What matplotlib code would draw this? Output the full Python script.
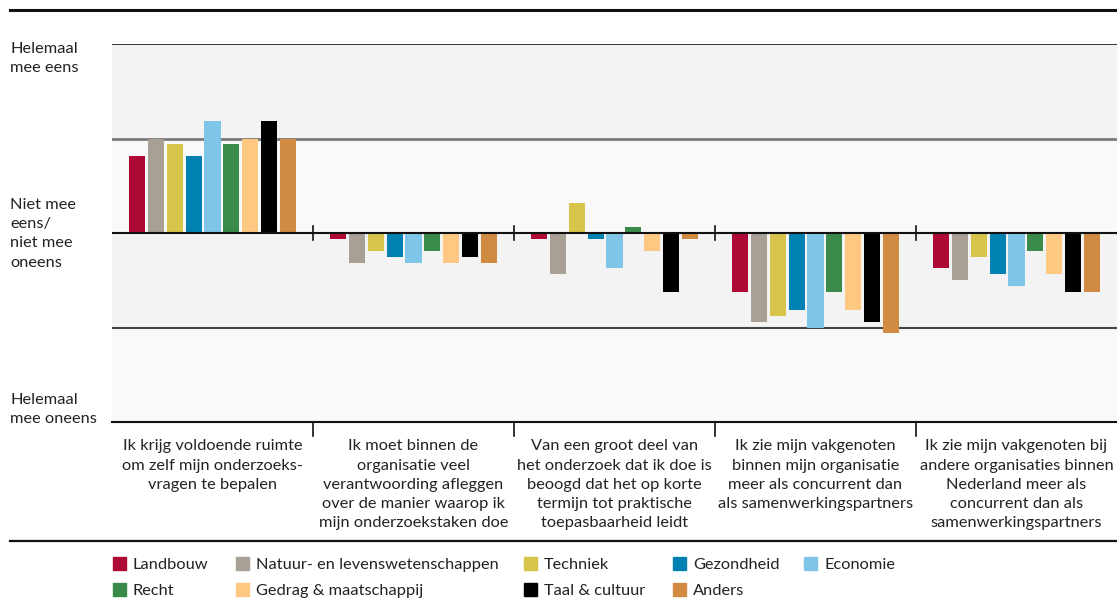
import matplotlib
matplotlib.use("Agg")
import matplotlib.pyplot as plt
from matplotlib.patches import Rectangle
from matplotlib.lines import Line2D
import numpy as np

plt.rcParams['font.family'] = ['Lato', 'DejaVu Sans']

categories = [
    "Ik krijg voldoende ruimte\nom zelf mijn onderzoeks-\nvragen te bepalen",
    "Ik moet binnen de\norganisatie veel\nverantwoording afleggen\nover de manier waarop ik\nmijn onderzoekstaken doe",
    "Van een groot deel van\nhet onderzoek dat ik doe is\nbeoogd dat het op korte\ntermijn tot praktische\ntoepasbaarheid leidt",
    "Ik zie mijn vakgenoten\nbinnen mijn organisatie\nmeer als concurrent dan\nals samenwerkingspartners",
    "Ik zie mijn vakgenoten bij\nandere organisaties binnen\nNederland meer als\nconcurrent dan als\nsamenwerkingspartners",
]

series_names = ["Landbouw", "Natuur- en levenswetenschappen", "Techniek", "Gezondheid",
                "Economie", "Recht", "Gedrag & maatschappij", "Taal & cultuur", "Anders"]

landbouw   = [0.8125, -0.0625, -0.0625, -0.625, -0.375]
natuur     = [1.0, -0.3125, -0.4375, -0.9375, -0.5]
techniek   = [0.9375, -0.1875, 0.3125, -0.875, -0.25]
gezondheid = [0.8125, -0.25, -0.0625, -0.8125, -0.4375]
economie   = [1.1875, -0.3125, -0.375, -1.0, -0.5625]
recht      = [0.9375, -0.1875, 0.0625, -0.625, -0.1875]
gedrag     = [1.0, -0.3125, -0.1875, -0.8125, -0.4375]
taal       = [1.1875, -0.25, -0.625, -0.9375, -0.625]
anders     = [1.0, -0.3125, -0.0625, -1.0625, -0.625]

series_values = [landbouw, natuur, techniek, gezondheid, economie, recht, gedrag, taal, anders]

colors = ["#ae0834", "#a8a094", "#d8c44a", "#0081b1", "#7fc5e7",
          "#3a8a4a", "#fec883", "#000000", "#d08a42"]

ylabels = ["Helemaal\nmee eens", "Niet mee\neens/\nniet mee\noneens", "Helemaal\nmee oneens"]

W, H = 1117, 599
FS = 11.8
LS = 1.47
TXT = "#222222"
fig = plt.figure(figsize=(W / 100, H / 100), dpi=100)

def fx(px):
    return px / W

def fy(py):
    return 1 - py / H

ax = fig.add_axes([fx(112), fy(422), fx(1117 - 112), (422 - 44) / H])
ax.set_xlim(-0.5, 4.5)
ax.set_ylim(-2, 2)

# background bands
ax.axhspan(1, 2, color="#f3f3f3", zorder=0, lw=0)
ax.axhspan(0, 1, color="#f9f9f9", zorder=0, lw=0)
ax.axhspan(-1, 0, color="#f3f3f3", zorder=0, lw=0)
ax.axhspan(-2, -1, color="#f9f9f9", zorder=0, lw=0)

x = np.arange(len(categories))
pitch = 0.094
width = 0.08
n = len(series_values)
for i, (vals, c) in enumerate(zip(series_values, colors)):
    offs = (i - (n - 1) / 2) * pitch
    ax.bar(x + offs, vals, width=width, color=c, zorder=3, linewidth=0)

ax.axhline(2, color="#111111", lw=1.2, zorder=4)
ax.axhline(1, color="#7a7a7a", lw=2.0, zorder=2)
ax.axhline(-1, color="#444444", lw=1.5, zorder=2)
ax.axhline(0, color="#111111", lw=1.5, zorder=4)
ax.axhline(-2, color="#111111", lw=1.5, zorder=4, clip_on=False)

for b in [0.5, 1.5, 2.5, 3.5]:
    ax.plot([b, b], [-0.075, 0.075], color="#111111", lw=1.2, zorder=5)
    ax.plot([b, b], [-2, -2.15], color="#111111", lw=1.2, zorder=5, clip_on=False)

for s in ax.spines.values():
    s.set_visible(False)
ax.set_xticks([])
ax.set_yticks([])

# category labels
for i, cat in enumerate(categories):
    ax.text(i, -2.185, cat, ha="center", va="top", fontsize=FS,
            color=TXT, linespacing=LS)

# y labels
fig.text(fx(10), fy(42), ylabels[0], ha="left", va="top", fontsize=FS,
         color=TXT, linespacing=LS)
fig.text(fx(10), fy(198), ylabels[1], ha="left", va="top", fontsize=FS,
         color=TXT, linespacing=LS)
fig.text(fx(10), fy(393), ylabels[2], ha="left", va="top", fontsize=FS,
         color=TXT, linespacing=LS)

# top and bottom rules
fig.add_artist(Line2D([fx(10), 1], [fy(10), fy(10)], color="#111111", lw=2.2))
fig.add_artist(Line2D([fx(10), 1], [fy(541), fy(541)], color="#111111", lw=1.6))

# legend
legend_pos = [(113, 564), (236, 564), (524, 564), (673, 564), (804, 564),
              (113, 590), (236, 590), (524, 590), (673, 590)]
for (px, py), name, c in zip(legend_pos, series_names, colors):
    fig.add_artist(Rectangle((fx(px), fy(py + 6)), fx(13), 13 / H, color=c,
                             transform=fig.transFigure))
    fig.text(fx(px + 20), fy(py + 1), name, ha="left", va="center", fontsize=FS,
             color=TXT)

fig.savefig("out.png", dpi=100)
